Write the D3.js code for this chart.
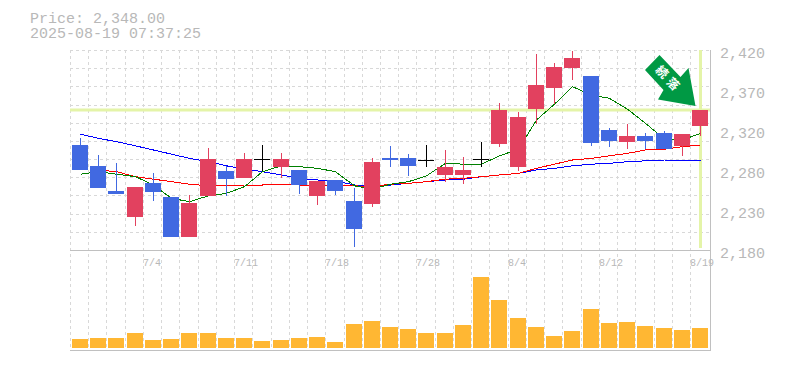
<!DOCTYPE html>
<html><head><meta charset="utf-8">
<script src="https://cdn.jsdelivr.net/npm/d3@7"></script>
<style>html,body{margin:0;padding:0;background:#fff}svg{display:block}text{font-family:"Liberation Mono",monospace}</style>
</head><body><svg id="c" width="785" height="370"></svg>
<script>
const title=["Price: 2,348.00","2025-08-19 07:37:25"];
const lastPrice=2348;
const priceTicks=[2420,2372,2324,2276,2228,2180];
const priceLabels=["2,420","2,370","2,320","2,280","2,230","2,180"];
const dateIdx=[4,9,14,19,24,29,34];
const dateLabels=["7/4","7/11","7/18","7/28","8/4","8/12","8/19"];
const opens=[2306,2281,2251,2220,2260,2244,2196,2245,2275,2266,2289,2280,2276,2245,2264,2239,2235,2290,2290,2288,2270,2270,2289,2307,2280,2349,2374,2398,2389,2324,2310,2317,2320,2305,2329];
const closes=[2276,2254,2247,2256,2250,2196,2236,2289,2265,2289,2289,2289,2258,2263,2251,2205,2286,2288,2281,2288,2280,2276,2289,2348,2340,2378,2400,2410,2308,2311,2317,2311,2301,2319,2348];
const highs=[2314,2294,2284,2256,2272,2244,2246,2302,2281,2296,2306,2296,2276,2263,2264,2254,2290,2305,2295,2306,2300,2292,2310,2356,2346,2415,2404,2419,2389,2326,2331,2320,2323,2319,2348];
const lows=[2276,2254,2247,2209,2239,2196,2196,2245,2245,2266,2275,2266,2247,2234,2246,2184,2232,2280,2269,2280,2262,2259,2280,2304,2275,2331,2355,2384,2305,2304,2301,2301,2301,2293,2317];
const ma5=[2271,2274,2271,2268,2258,2242,2238,2245,2248,2256,2274,2281,2280,2278,2274,2257,2253,2259,2262,2269,2284,2283,2283,2293,2301,2336,2355,2376,2366,2362,2349,2332,2313,2312,2320];
const ma25=[null,2276,2274,2268,2265,2262,2259,2257,2257,2258,2258,2259,2258,2258,2258,2257,2256,2259,2260,2262,2265,2266,2268,2270,2272,2278,2283,2288,2290,2293,2296,2300,2301,2304,2306];
const ma75=[2319,2314,2310,2305,2300,2295,2290,2286,2281,2277,2274,2270,2266,2264,2263,2258,2258,2258,2260,2262,2264,2265,2268,2270,2272,2276,2278,2281,2283,2284,2286,2287,2288,2288,2288];
const volumes=[9,10,10,15,8,9,15,15,10,10,7,8,10,11,6,24,27,21,19,15,15,23,71,48,30,21,12,17,39,25,26,22,20,18,20];
const arrowText=["続","落"];

const svg=d3.select("#c");
const L=70,R=710,T=50,B=250,VB=348,AX=350;
const idx=d3.range(closes.length);
const xb=d3.scaleBand().domain(idx).range([L,L+18.235*idx.length]);
const y=d3.scaleLinear().domain([2180,2420]).range([B,T]);
const v=d3.scaleLinear().domain([0,72]).range([VB,VB-72]);
const xL=i=>Math.round(xb(i));
const xC=i=>xL(i)+10.5;
const txt="#b8b8b8";

svg.selectAll(".t").data(title).join("text").attr("x",30).attr("y",(d,i)=>23+i*15)
 .attr("font-size",15).attr("fill",txt).text(d=>d);

const grid=svg.append("g").attr("stroke","#d8d8d8").attr("stroke-dasharray","3 3").attr("shape-rendering","crispEdges");
const hLines=d3.range(0,11).map(k=>T+k*(B-T)/11);
grid.selectAll(".h").data(hLines).join("line").attr("x1",L).attr("x2",R).attr("y1",d=>Math.round(d)+.5).attr("y2",d=>Math.round(d)+.5);
const xs=idx.map(xL);
grid.selectAll(".v").data(xs).join("line").attr("x1",d=>d+.5).attr("x2",d=>d+.5).attr("y1",T).attr("y2",AX);

const hl="#e4f4a8";
svg.append("line").attr("x1",L).attr("x2",R).attr("y1",y(lastPrice)).attr("y2",y(lastPrice)).attr("stroke",hl).attr("stroke-width",3);
svg.append("line").attr("x1",xC(34)).attr("x2",xC(34)).attr("y1",T).attr("y2",B-2).attr("stroke",hl).attr("stroke-width",3);

const ln=d3.line().defined(d=>d!==null).x((d,i)=>xC(i)).y(d=>y(d));
[[ma75,"#0000ff"],[ma25,"#ff0000"],[ma5,"#008000"]].forEach(([d,c])=>{
 svg.append("path").attr("d",ln(d)).attr("fill","none").attr("stroke",c).attr("stroke-width",1).attr("shape-rendering","crispEdges");
});

const col=i=>closes[i]>opens[i]?"#e2415f":closes[i]<opens[i]?"#4169e1":"#000000";
const cg=svg.append("g").attr("shape-rendering","crispEdges");
cg.selectAll(".w").data(idx).join("line").attr("x1",i=>xC(i)).attr("x2",i=>xC(i))
 .attr("y1",i=>y(highs[i])).attr("y2",i=>y(lows[i])).attr("stroke",col).attr("stroke-width",1);
cg.selectAll(".b").data(idx).join("rect").attr("x",i=>xL(i)+2).attr("width",16)
 .attr("y",i=>y(Math.max(opens[i],closes[i]))).attr("height",i=>Math.max(1,Math.abs(y(opens[i])-y(closes[i]))))
 .attr("fill",col);

svg.append("g").attr("shape-rendering","crispEdges").selectAll("rect").data(volumes).join("rect").attr("x",(d,i)=>xL(i)+2).attr("width",16)
 .attr("y",d=>v(d)).attr("height",d=>VB-v(d)).attr("fill","#ffb733");

const ax=svg.append("g").attr("stroke","#c0c0c0").attr("stroke-width",1).attr("shape-rendering","crispEdges");
ax.append("line").attr("x1",L).attr("x2",R).attr("y1",B+.5).attr("y2",B+.5);
ax.append("line").attr("x1",L).attr("x2",R+1).attr("y1",AX+.5).attr("y2",AX+.5);
ax.append("line").attr("x1",R+.5).attr("x2",R+.5).attr("y1",T).attr("y2",AX);

svg.selectAll(".p").data(priceTicks).join("text").attr("x",720).attr("y",d=>y(d)+8)
 .attr("font-size",15).attr("fill",txt).text((d,i)=>priceLabels[i]);
svg.selectAll(".d").data(dateIdx).join("text").attr("x",i=>xL(i)).attr("y",B+16)
 .attr("font-size",10).attr("fill",txt).text((d,i)=>dateLabels[i]);

const a=svg.append("g").attr("transform",`translate(${xC(34)},${y(lastPrice)})`);
const arrowPts=[[-41,-55],[-55.5,-40],[-37,-20],[-42.5,-10.5],[-5,-4],[-12,-42],[-20,-33]];
a.append("polygon").attr("points",arrowPts.join(" ")).attr("fill","#009944");
a.selectAll("text").data(arrowText).join("text").attr("font-size",12).attr("font-weight","bold").attr("fill","#fff")
 .attr("text-anchor","middle").style("font-family","'Noto Sans CJK JP'")
 .attr("transform",(d,i)=>`translate(${-38.5+i*11},${-38+i*12}) rotate(45)`).attr("dy","0.35em").text(d=>d);
</script></body></html>
